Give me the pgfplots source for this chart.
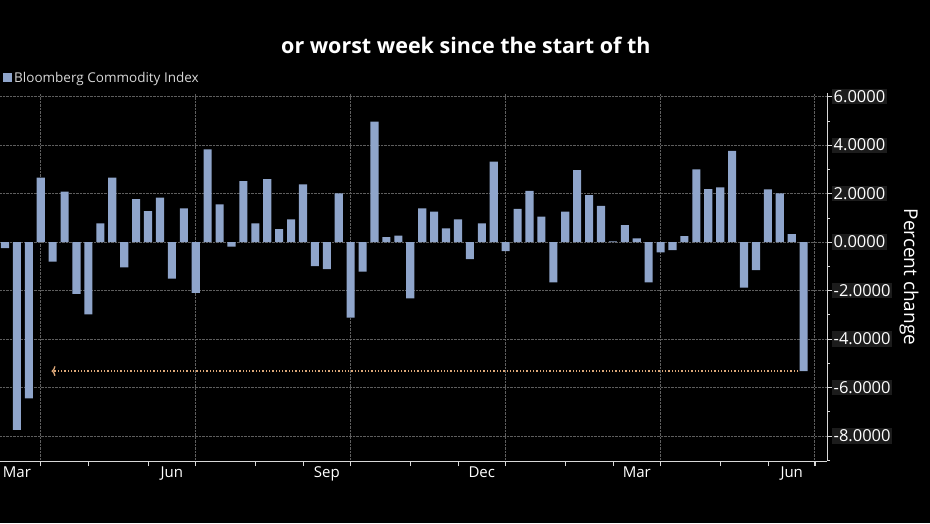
\documentclass[border=0pt]{standalone}
\usepackage{fontspec}
\setmainfont{Open Sans}
\usepackage{pgfplots}
\pgfplotsset{compat=1.18}
\usetikzlibrary{arrows.meta}
\definecolor{barblue}{HTML}{8FA5CB}
\definecolor{gridc}{HTML}{5E5E5E}
\definecolor{axc}{HTML}{D8D8D8}
\definecolor{arr}{HTML}{DDA878}
\definecolor{tlbg}{HTML}{1C1C1C}
\pgfplotstableread{
x y
0 -0.25
1 -7.75
2 -6.45
3 2.66
4 -0.81
5 2.08
6 -2.14
7 -2.98
8 0.77
9 2.66
10 -1.04
11 1.77
12 1.28
13 1.83
14 -1.51
15 1.39
16 -2.09
17 3.83
18 1.56
19 -0.19
20 2.52
21 0.77
22 2.60
23 0.53
24 0.94
25 2.38
26 -0.99
27 -1.12
28 2.01
29 -3.12
30 -1.22
31 4.97
32 0.20
33 0.27
34 -2.32
35 1.39
36 1.26
37 0.57
38 0.94
39 -0.70
40 0.77
41 3.32
42 -0.37
43 1.37
44 2.11
45 1.05
46 -1.66
47 1.26
48 2.97
49 1.94
50 1.49
51 0.03
52 0.70
53 0.15
54 -1.66
55 -0.42
56 -0.33
57 0.25
58 3.00
59 2.19
60 2.26
61 3.76
62 -1.88
63 -1.16
64 2.18
65 2.01
66 0.33
67 -5.32
}\bcom
\begin{document}
\begin{tikzpicture}[x=1pt,y=1pt]
\fill[black] (0,0) rectangle (930,523);
\useasboundingbox (0,0) rectangle (930,523);
\node[anchor=base west, text=white, font=\bfseries\fontsize{21.5}{22}\selectfont, inner sep=0pt] at (281,469.7) {or worst week since the start of th};
\begin{axis}[
  at={(0pt,62pt)}, anchor=south west, scale only axis,
  width=827pt, height=368pt,
  xmin=-0.42, xmax=68.96, ymin=-9.03, ymax=6.15,
  axis x line*=bottom, axis y line*=right,
  x axis line style={-, axc, line width=0.8pt},
  y axis line style={-, axc, line width=0.8pt},
  tick align=outside,
  major tick length=5pt, minor tick length=3pt,
  tick style={axc, line width=0.7pt},
  xtick={3,7,12,16,21,25,29,34,38,42,47,51,55,60,64,68},
  xticklabels={},
  extra x ticks={3,16,29,42,55,67.9},
  extra x tick labels={},
  extra x tick style={grid=major},
  ytick={-8,-6,...,6},
  minor ytick={-9,-7,...,5},
  ymajorgrids=true,
  major grid style={gridc, densely dotted, line width=0.7pt},
  yticklabel style={font=\fontsize{16.5}{17}\selectfont, text=white, fill=tlbg, inner sep=1.5pt},
  /pgf/number format/.cd, fixed, fixed zerofill, precision=4, assume math mode=true,
  /pgfplots/.cd,
  ylabel={Percent change},
  ylabel shift=4pt,
  ylabel style={rotate=180, font=\fontsize{19}{20}\selectfont, text=white},
  legend style={at={(axis description cs:0,1)}, anchor=south west, xshift=3pt, yshift=7pt,
    draw=none, fill=none, inner sep=0pt, text=axc,
    font=\fontsize{13.5}{14}\selectfont},
  legend image code/.code={\fill[barblue] (0pt,-4.5pt) rectangle (9pt,4.5pt);},
]
\addplot[ybar, bar width=0.68, bar shift=0pt, fill=barblue, draw=none] table[x=x,y=y] {\bcom};
\addlegendentry{Bloomberg Commodity Index}
\addplot[forget plot, arr, dotted, line width=1.3pt, -{To[length=4pt,width=10pt]}] coordinates {(66.55,-5.32) (3.9,-5.32)};
\end{axis}
\begin{axis}[
  at={(0pt,62pt)}, anchor=south west, scale only axis,
  width=827pt, height=368pt,
  xmin=-0.42, xmax=68.96, ymin=-9.03, ymax=6.15,
  axis x line*=bottom, axis y line=none,
  x axis line style={draw=none},
  major tick length=0pt,
  xtick={1,14,27,40,53,66},
  xticklabels={Mar,Jun,Sep,Dec,Mar,Jun},
  xticklabel style={font=\fontsize{15}{16}\selectfont, text=white, yshift=-2pt},
  ytick=\empty,
]
\end{axis}
\end{tikzpicture}
\end{document}
